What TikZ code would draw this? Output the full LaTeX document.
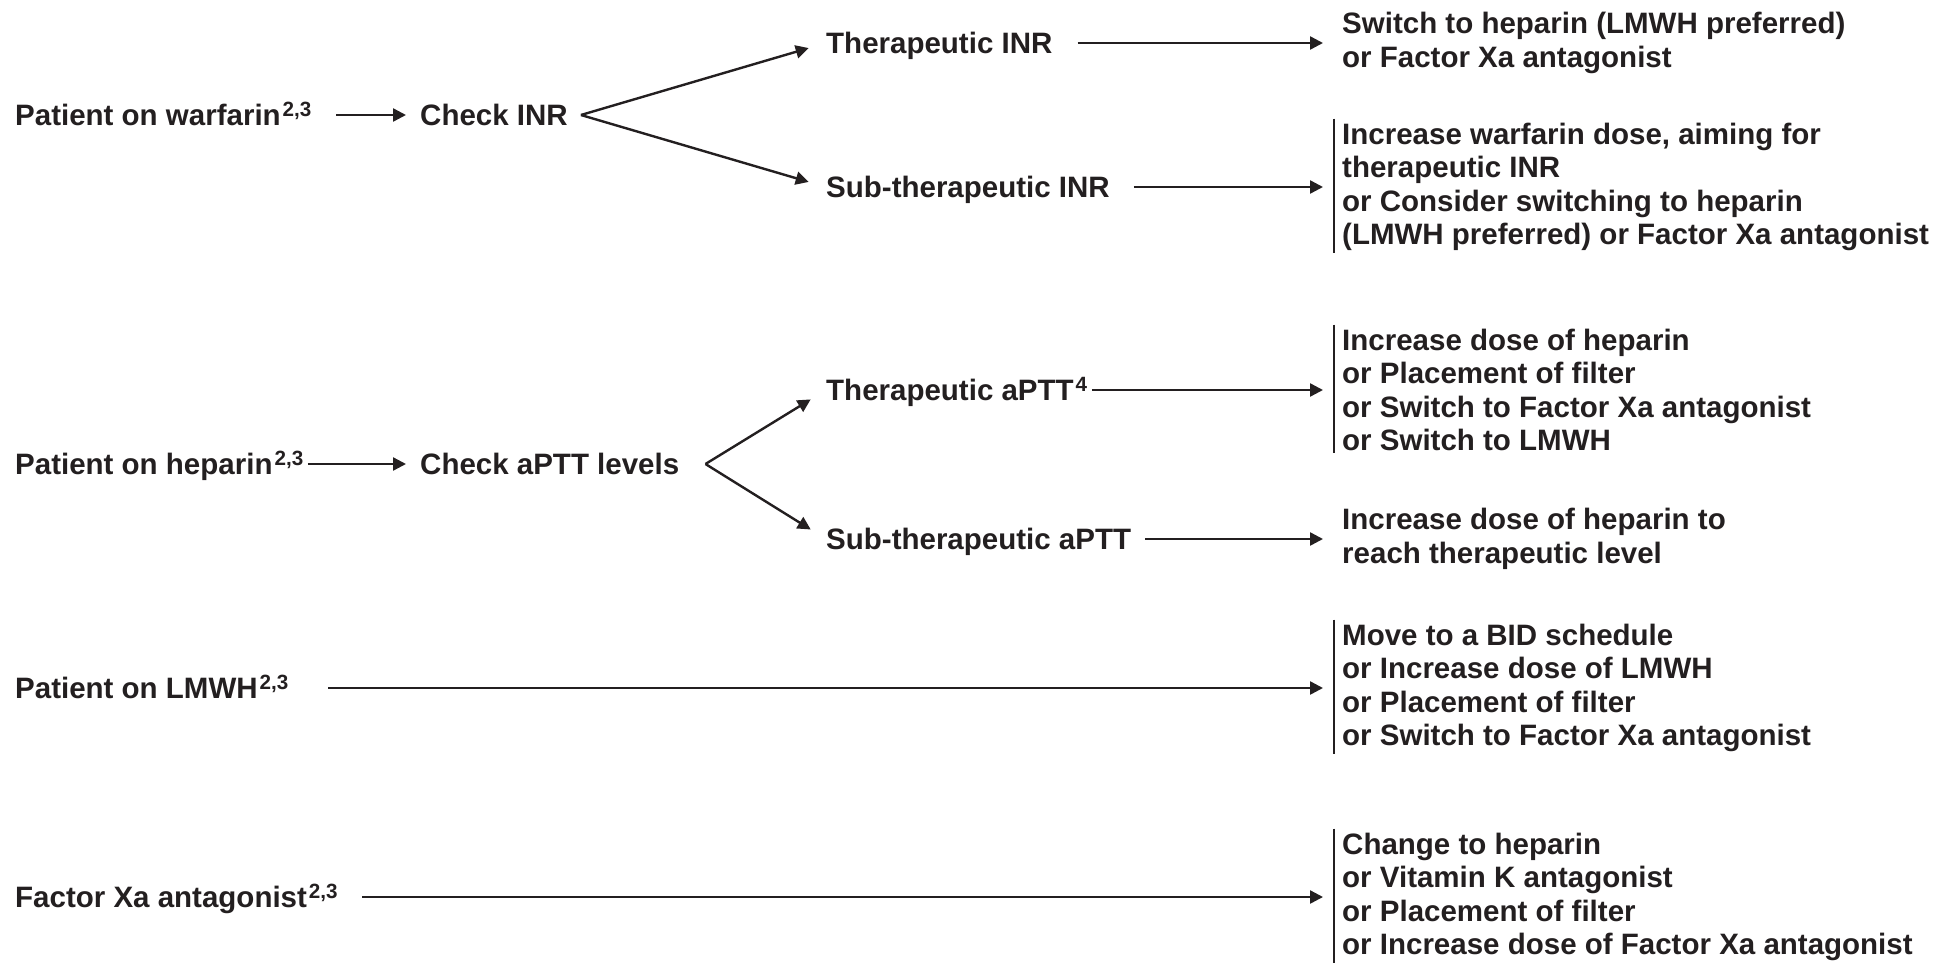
\documentclass[tikz,border=0pt]{standalone}
\usepackage{fontspec}
\setmainfont{Liberation Sans}
\usetikzlibrary{arrows.meta}
\definecolor{ink}{RGB}{35,31,32}
\begin{document}
\begin{tikzpicture}[x=1pt,y=-1pt,
  lbl/.style={anchor=west,inner sep=0pt,text=ink,font=\fontsize{29.5}{33.5}\selectfont\bfseries,text height=21pt,text depth=0pt},
  blk/.style={anchor=west,inner sep=0pt,text=ink,font=\fontsize{29.5}{33.5}\selectfont\bfseries,align=left},
  arr/.style={draw=ink,line width=2.4pt,-{Triangle[length=13pt,width=13pt]}},
  bar/.style={draw=ink,line width=2.2pt}]
\useasboundingbox (0,0) rectangle (1934,963);
% warfarin
\node[lbl] (pw) at (15,115) {Patient on warfarin\kern2pt\textsuperscript{2,3}};
\node[lbl] (ci) at (420,115) {Check INR};
\node[lbl] (ti) at (826,43) {Therapeutic INR};
\node[lbl] (si) at (826,187) {Sub-therapeutic INR};
\node[blk] (b1) at (1342,43) {Switch to heparin (LMWH preferred)\\or Factor Xa antagonist};
\node[blk] (b2) at (1342,187) {Increase warfarin dose, aiming for\\therapeutic INR\\or Consider switching to heparin\\(LMWH preferred) or Factor Xa antagonist};
% heparin
\node[lbl] (ph) at (15,464) {Patient on heparin\kern2pt\textsuperscript{2,3}};
\node[lbl] (ca) at (420,464) {Check aPTT levels};
\node[lbl] (ta) at (826,390) {Therapeutic aPTT\kern2pt\textsuperscript{4}};
\node[lbl] (sa) at (826,539) {Sub-therapeutic aPTT};
\node[blk] (b3) at (1342,390) {Increase dose of heparin\\or Placement of filter\\or Switch to Factor Xa antagonist\\or Switch to LMWH};
\node[blk] (b4) at (1342,539) {Increase dose of heparin to\\reach therapeutic level};
% LMWH
\node[lbl] (pl) at (15,688) {Patient on LMWH\kern2pt\textsuperscript{2,3}};
\node[blk] (b5) at (1342,688) {Move to a BID schedule\\or Increase dose of LMWH\\or Placement of filter\\or Switch to Factor Xa antagonist};
% Factor Xa
\node[lbl] (fx) at (15,897) {Factor Xa antagonist\kern2pt\textsuperscript{2,3}};
\node[blk] (b6) at (1342,897) {Change to heparin\\or Vitamin K antagonist\\or Placement of filter\\or Increase dose of Factor Xa antagonist};
% connectors
\draw[arr,shorten <=24pt,shorten >=14pt] (pw.east) -- (ci.west);
\draw[arr,shorten >=18pt] ([xshift=13pt]ci.east) -- (ti.west);
\draw[arr,shorten >=18pt] ([xshift=13pt]ci.east) -- (si.west);
\draw[arr,shorten <=25pt,shorten >=19pt] (ti.east) -- (ti.east -| b1.west);
\draw[arr,shorten <=24pt,shorten >=19pt] (si.east) -- (si.east -| b2.west);
\draw[arr,shorten <=4pt,shorten >=14pt] (ph.east) -- (ca.west);
\draw[arr,shorten >=18pt] ([xshift=26pt]ca.east) -- (ta.west);
\draw[arr,shorten >=18pt] ([xshift=26pt]ca.east) -- (sa.west);
\draw[arr,shorten <=4pt,shorten >=19pt] (ta.east) -- (ta.east -| b3.west);
\draw[arr,shorten <=14pt,shorten >=19pt] (sa.east) -- (sa.east -| b4.west);
\draw[arr,shorten <=39pt,shorten >=19pt] (pl.east) -- (pl.east -| b5.west);
\draw[arr,shorten <=24pt,shorten >=19pt] (fx.east) -- (fx.east -| b6.west);
% bars
\foreach \b in {b2,b3,b5,b6}
  \draw[bar] ([xshift=-8pt,yshift=4pt]\b.north west) -- ([xshift=-8pt,yshift=-2pt]\b.south west);
\end{tikzpicture}
\end{document}
